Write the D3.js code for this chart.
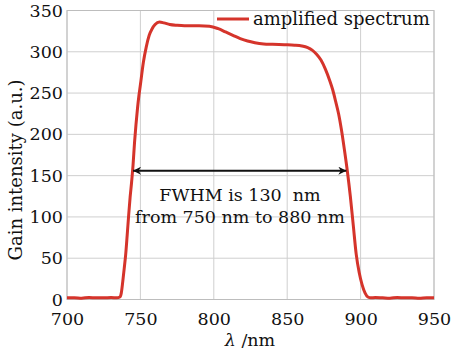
<!DOCTYPE html>
<html><head><meta charset="utf-8">
<script src="https://cdn.jsdelivr.net/npm/d3@7"></script>
<style>body{margin:0;background:#fff;} text{font-family:"DejaVu Serif",serif;fill:#111;}</style>
</head><body>
<svg id="c" width="453" height="352"></svg>
<script>
const wavelength = [700,705,710,715,720,725,730,734,736,737,738,739,740,741,742,743,744,745,746,747,748,749,750,752,754,756,758,760,763,766,770,775,780,790,797,803,808,813,818,823,828,834,840,848,855,860,864,867,870,873,876,879,881,883,885,887,889,891,893,895,897,899,901,903,905,907,910,915,920,925,930,935,940,945,950];
const intensity = [2,2,1.5,2.5,2,2,2.5,2,3,8,22,38,55,78,102,124,142,163,190,212,231,247,260,287,306,320,328,333,336,335,333,332,331.5,331.5,331,328,324,320,316,313,311,309.5,309,308.5,308,307,305,302,297,290,279,265,254,240,225,205,181,155,125,90,55,33,18,8,3,2,2.5,2,1.5,2.5,2,2,1.5,2,2];
const xTicks = [700,750,800,850,900,950];
const yTicks = [0,50,100,150,200,250,300,350];
const seriesName = "amplified spectrum";
const fwhmArrow = {from:745, to:890.3, level:156};
const annotation = ["FWHM is 130  nm","from 750 nm to 880 nm"];

const svg = d3.select("#c");
const m = {l:67, r:434, t:10.5, b:299.5};
const x = d3.scaleLinear().domain([700,950]).range([m.l,m.r]);
const y = d3.scaleLinear().domain([0,350]).range([m.b,m.t]);

// grid
const g = svg.append("g");
g.selectAll(".vx").data(xTicks).join("line")
  .attr("x1",d=>x(d)).attr("x2",d=>x(d)).attr("y1",m.t).attr("y2",m.b)
  .attr("stroke","#cfcfcf").attr("stroke-width",1);
g.selectAll(".hy").data(yTicks).join("line")
  .attr("y1",d=>y(d)).attr("y2",d=>y(d)).attr("x1",m.l).attr("x2",m.r)
  .attr("stroke","#cfcfcf").attr("stroke-width",1);
svg.append("rect").attr("x",m.l).attr("y",m.t).attr("width",m.r-m.l).attr("height",m.b-m.t)
  .attr("fill","none").attr("stroke","#bdbdbd").attr("stroke-width",1);

// axes labels
const xAxis = d3.axisBottom(x).tickValues(xTicks).tickSize(0).tickPadding(13).tickFormat(d3.format("d"));
const xa = svg.append("g").attr("transform",`translate(0,${m.b})`).call(xAxis);
xa.select(".domain").remove();
xa.selectAll("text").attr("font-family","DejaVu Serif").attr("font-size",17.5).attr("fill","#111");
const yAxis = d3.axisLeft(y).tickValues(yTicks).tickSize(0).tickPadding(4).tickFormat(d3.format("d"));
const ya = svg.append("g").attr("transform",`translate(${m.l},0)`).call(yAxis);
ya.select(".domain").remove();
ya.selectAll("text").attr("font-family","DejaVu Serif").attr("font-size",17.5).attr("fill","#111");

svg.append("text").attr("x",250).attr("y",346).attr("text-anchor","middle").attr("font-size",17.5)
  .html('<tspan font-style="italic">λ</tspan> /nm');
svg.append("text").attr("transform","translate(22,170) rotate(-90)").attr("text-anchor","middle")
  .attr("font-size",18).text("Gain intensity (a.u.)");

// curve
const pts = wavelength.map((w,i)=>[w,intensity[i]]);
svg.append("path").datum(pts)
  .attr("d",d3.line().x(d=>x(d[0])).y(d=>y(d[1])).curve(d3.curveMonotoneX))
  .attr("fill","none").attr("stroke","#d5342b").attr("stroke-width",3).attr("stroke-linejoin","round");

// legend
svg.append("line").attr("x1",217).attr("x2",249).attr("y1",19).attr("y2",19)
  .attr("stroke","#d5342b").attr("stroke-width",3);
svg.append("text").attr("x",253).attr("y",25).attr("font-size",18).text(seriesName);

// arrow
const defs = svg.append("defs");
defs.append("marker").attr("id","ah").attr("viewBox","0 0 10 10").attr("refX",10).attr("refY",5)
  .attr("markerWidth",14).attr("markerHeight",8).attr("markerUnits","userSpaceOnUse").attr("orient","auto-start-reverse")
  .append("path").attr("d","M0,0 L10,5 L0,10 L3,5 Z").attr("fill","#111");
svg.append("line").attr("x1",x(fwhmArrow.from)).attr("x2",x(fwhmArrow.to))
  .attr("y1",y(fwhmArrow.level)).attr("y2",y(fwhmArrow.level))
  .attr("stroke","#111").attr("stroke-width",2)
  .attr("marker-start","url(#ah)").attr("marker-end","url(#ah)");
svg.selectAll(".ann").data(annotation).join("text")
  .attr("x",240).attr("y",(d,i)=>201+i*22).attr("text-anchor","middle").attr("font-size",17.5)
  .style("white-space","pre").text(d=>d);
</script>
</body></html>
